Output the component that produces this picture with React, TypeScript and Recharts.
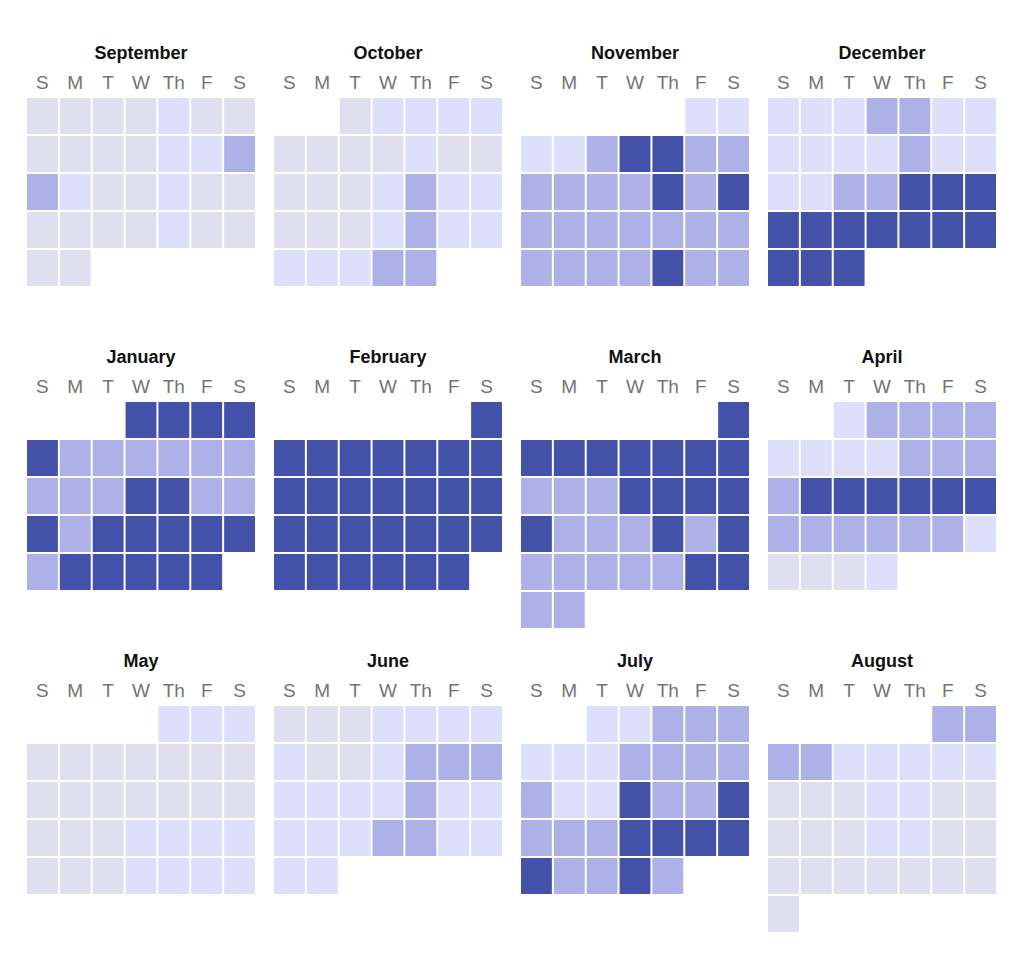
import React from 'react';
import { ScatterChart, Scatter, XAxis, YAxis } from 'recharts';

const MONTHS = [
  'September', 'October', 'November', 'December',
  'January', 'February', 'March', 'April',
  'May', 'June', 'July', 'August',
];
const WEEKDAYS = ['S', 'M', 'T', 'W', 'Th', 'F', 'S'];
// weekday of the 1st of each month (0 = Sunday), Sep 2024 .. Aug 2025
const FIRST_DAY = [0, 2, 5, 0, 3, 6, 6, 2, 4, 0, 2, 5];

// activity level per day: 0 = none, 1 = low, 2 = medium, 3 = high
const sep = [0,0,0,0,1,0,0, 0,0,0,0,1,1,2, 2,1,0,0,1,0,0, 0,0,0,0,1,0,0, 0,0];
const oct = [0,1,1,1,1, 0,0,0,0,1,0,0, 0,0,0,1,2,1,1, 0,0,0,1,2,1,1, 1,1,1,2,2];
const nov = [1,1, 1,1,2,3,3,2,2, 2,2,2,2,3,2,3, 2,2,2,2,2,2,2, 2,2,2,2,3,2,2];
const dec = [1,1,1,2,2,1,1, 1,1,1,1,2,1,1, 1,1,2,2,3,3,3, 3,3,3,3,3,3,3, 3,3,3];
const jan = [3,3,3,3, 3,2,2,2,2,2,2, 2,2,2,3,3,2,2, 3,2,3,3,3,3,3, 2,3,3,3,3,3];
const feb = [3, 3,3,3,3,3,3,3, 3,3,3,3,3,3,3, 3,3,3,3,3,3,3, 3,3,3,3,3,3];
const mar = [3, 3,3,3,3,3,3,3, 2,2,2,3,3,3,3, 3,2,2,2,3,2,3, 2,2,2,2,2,3,3, 2,2];
const apr = [1,2,2,2,2, 1,1,1,1,2,2,2, 2,3,3,3,3,3,3, 2,2,2,2,2,2,1, 0,0,0,1];
const may = [1,1,1, 0,0,0,0,0,0,0, 0,0,0,0,0,0,0, 0,0,0,1,1,1,1, 0,0,0,1,1,1,1];
const jun = [0,0,0,1,1,1,1, 1,0,0,1,2,2,2, 1,1,1,1,2,1,1, 1,1,1,2,2,1,1, 1,1];
const jul = [1,1,2,2,2, 1,1,1,2,2,2,2, 2,1,1,3,2,2,3, 2,2,2,3,3,3,3, 3,2,2,3,2];
const aug = [2,2, 2,2,1,1,1,1,1, 0,0,0,1,1,0,0, 0,0,0,1,1,0,0, 0,0,0,0,0,0,0, 0];

const LEVELS = [sep, oct, nov, dec, jan, feb, mar, apr, may, jun, jul, aug];
const COLORS = ['#dfdff0', '#dde0fb', '#aeb1e7', '#4351a9'];

const CHART_W = 230;
const AXIS_H = 30;
const ROW_H = 38;
const CHART_H = AXIS_H + ROW_H * 6;
const CELL_W = CHART_W / 7 - 2;
const CELL_H = ROW_H - 2;
const FONT = '"Liberation Sans", Arial, Helvetica, sans-serif';

const Cell = (props: any) => {
  const { cx, cy, payload } = props;
  return (
    <rect
      x={cx - CELL_W / 2}
      y={cy - CELL_H / 2}
      width={CELL_W}
      height={CELL_H}
      fill={COLORS[payload.level]}
    />
  );
};

function MonthChart({ index }: { index: number }) {
  const data = LEVELS[index].map((level, i) => {
    const pos = FIRST_DAY[index] + i;
    return { day: i + 1, dow: pos % 7, week: Math.floor(pos / 7), level };
  });
  const col = index % 4;
  const row = Math.floor(index / 4);
  const left = 26 + col * 247;

  return (
    <>
      <div
        style={{
          position: 'absolute',
          left,
          top: 44 + row * 304,
          width: CHART_W,
          textAlign: 'center',
          fontFamily: FONT,
          fontWeight: 700,
          fontSize: 18,
          lineHeight: '18px',
          color: '#111',
        }}
      >
        {MONTHS[index]}
      </div>
      <div style={{ position: 'absolute', left, top: 67 + row * 304 }}>
        <ScatterChart width={CHART_W} height={CHART_H} margin={{ top: 0, right: 0, bottom: 0, left: 0 }}>
          <XAxis
            type="number"
            dataKey="dow"
            orientation="top"
            domain={[-0.5, 6.5]}
            ticks={[0, 1, 2, 3, 4, 5, 6]}
            interval={0}
            tickFormatter={(v: number) => WEEKDAYS[v]}
            height={AXIS_H}
            axisLine={false}
            tickLine={false}
            tickSize={6}
            tickMargin={2}
            tick={{ fill: '#747474', fontSize: 19, fontFamily: FONT }}
          />
          <YAxis type="number" dataKey="week" domain={[-0.5, 5.5]} reversed hide />
          <Scatter data={data} shape={Cell} isAnimationActive={false} />
        </ScatterChart>
      </div>
    </>
  );
}

export default function App() {
  return (
    <div
      style={{
        position: 'absolute',
        left: 0,
        top: 0,
        width: 1024,
        height: 961,
        background: '#fff',
      }}
    >
      {MONTHS.map((m, i) => (
        <MonthChart key={m} index={i} />
      ))}
    </div>
  );
}
